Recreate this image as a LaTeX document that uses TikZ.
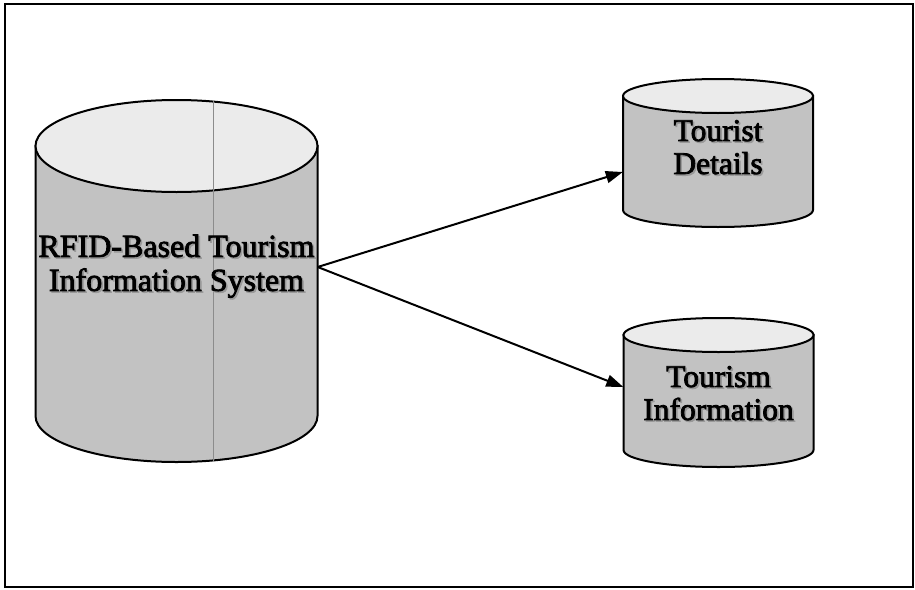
\documentclass[tikz,border=0pt]{standalone}
\usepackage{fontspec}
\setmainfont{Liberation Serif}
\newfontfamily\labelfont[FakeBold=2.5]{Liberation Serif}
\usetikzlibrary{arrows.meta}

\tikzset{
  frame/.style={draw=black, line width=1.6pt},
  cylbody/.style={draw=black, line width=2pt, fill=black!24},
  cyltop/.style={draw=black, line width=2pt, fill=black!8},
  seam/.style={draw=black!45, line width=0.7pt},
  bigtext/.style={inner sep=0pt, align=center, font=\labelfont\fontsize{32}{34}\selectfont},
  smalltext/.style={inner sep=0pt, align=center, font=\labelfont\fontsize{31.5}{33}\selectfont},
  flow/.style={line width=2pt, -{Triangle[length=17pt,width=12pt]}},
}

% text with a soft drop shadow
\newcommand\shadowtxt[1]{\leavevmode\rlap{\kern1.6pt\raisebox{-1.6pt}{\color{black!40}#1}}#1}

% database drum: centre x, top-ellipse centre y, bottom-ellipse centre y, x radius, y radius
\newcommand\drumshape[5]{%
  \path[cylbody] (#1-#4,-#2) -- (#1-#4,-#3)
     arc[start angle=180, end angle=360, x radius=#4, y radius=#5]
     -- (#1+#4,-#2) -- cycle;
  \path[cyltop] (#1,-#2) ellipse[x radius=#4, y radius=#5];}

\begin{document}
\begin{tikzpicture}[x=1pt, y=1pt]
  \useasboundingbox (0,0) rectangle (915,-589);
  \draw[frame] (5,-4) rectangle (913,-587);

  % storage drums
  \drumshape{176.5}{146}{416}{141}{46}
  \draw[seam] (213,-101) -- (213,-461);
  \drumshape{718}{96}{210}{95}{17}
  \drumshape{718.5}{335}{450}{95}{17}

  % labels
  \node[bigtext, minimum width=282pt] (rfid) at (176.5,-267)
    {\shadowtxt{RFID-Based Tourism}\\\shadowtxt{Information System}};
  \node[smalltext, minimum width=190pt] (td) at (718,-148)
    {\shadowtxt{Tourist}\\\shadowtxt{Details}};
  \node[smalltext, minimum width=190pt] (ti) at (718.5,-394)
    {\shadowtxt{Tourism}\\\shadowtxt{Information}};

  % data flows
  \draw[flow] (rfid.east) -- ([yshift=-24pt]td.west);
  \draw[flow] (rfid.east) -- ([yshift=7pt]ti.west);
\end{tikzpicture}
\end{document}
